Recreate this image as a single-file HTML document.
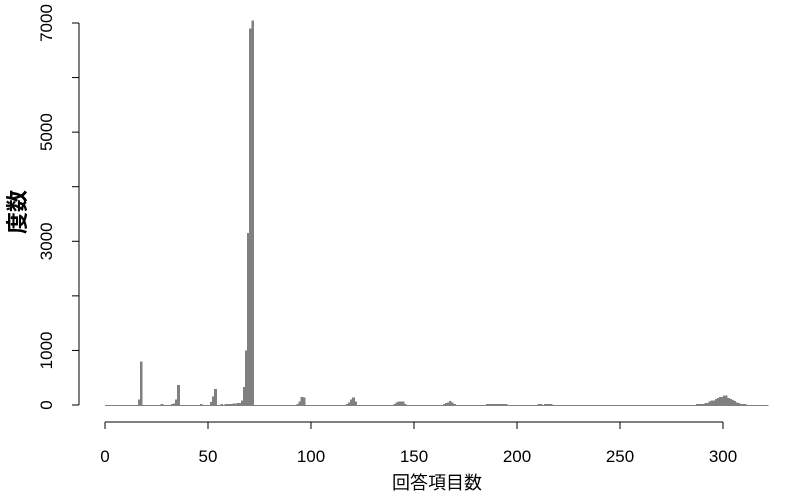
<!DOCTYPE html>
<html><head><meta charset="utf-8"><style>
body{margin:0;background:#fff;}
svg{display:block;font-family:"Liberation Sans","Noto Sans CJK JP",sans-serif;}
</style></head><body>
<svg id="chart" width="800" height="500">
<g id="bars" shape-rendering="crispEdges"></g>
<g id="xaxis"></g>
<g id="yaxis"></g>
<text x="437" y="489" font-size="18" text-anchor="middle">回答項目数</text>
<text transform="translate(25,212) rotate(-90)" font-size="22" font-weight="bold" text-anchor="middle">度数</text>
</svg>
<script>
const bins=[16,17,27,32,33,34,35,46,51,52,53,56,58,59,60,61,62,63,64,65,66,67,68,69,70,71,
93,94,95,96,117,118,119,120,121,140,141,142,143,144,145,164,165,166,167,168,169,
185,186,187,188,189,190,191,192,193,194,210,211,213,214,215,216,
287,288,289,290,291,292,293,294,295,296,297,298,299,300,301,302,303,304,305,306,307,308,309,310];
const counts=[100,800,20,20,30,100,370,20,55,160,290,20,20,20,20,20,30,30,40,40,80,330,1000,3150,6900,7050,
20,60,150,140,20,50,100,140,60,20,50,60,60,60,20,20,40,50,70,50,20,
20,20,20,20,20,20,20,20,20,20,20,20,20,20,20,20,
20,20,20,20,40,40,60,80,80,110,130,150,150,170,170,130,110,90,70,50,40,20,20,20];
const xTicks=[0,50,100,150,200,250,300];
const yTicks=[0,1000,2000,3000,4000,5000,6000,7000];
const yLabels=["0","1000","","3000","","5000","","7000"];
const NS="http://www.w3.org/2000/svg";
const X=v=>105+v*(618/300);
const Y=v=>405-v*(382/7000);
function mk(tag,a,parent){const e=document.createElementNS(NS,tag);for(const k in a)e.setAttribute(k,a[k]);parent.appendChild(e);return e;}
const gb=document.getElementById('bars');
const base=mk('line',{x1:X(0),x2:X(322),y1:405.5,y2:405.5,stroke:'#808080','stroke-width':1},gb);


bins.forEach((b,i)=>{
  const r=mk('rect',{x:X(b),y:Y(counts[i]),width:X(b+1)-X(b)+0.6,height:405-Y(counts[i])+1,fill:'#808080'},gb);
  
  
});
const gx=document.getElementById('xaxis');
mk('line',{x1:X(0),x2:X(300),y1:422,y2:422,stroke:'#000'},gx);
xTicks.forEach(t=>{
  mk('line',{x1:X(t),x2:X(t),y1:422,y2:429,stroke:'#000'},gx);
  const tx=mk('text',{x:X(t),y:462,'font-size':17,'text-anchor':'middle'},gx);
  tx.textContent=t;
  
  
});
const gy=document.getElementById('yaxis');
mk('line',{x1:79,x2:79,y1:Y(0),y2:Y(7000),stroke:'#000'},gy);
yTicks.forEach((t,i)=>{
  mk('line',{x1:72,x2:79,y1:Y(t),y2:Y(t),stroke:'#000'},gy);
  if(yLabels[i]){
    const tx=mk('text',{transform:`translate(52,${Y(t)}) rotate(-90)`,'font-size':17,'text-anchor':'middle'},gy);
    tx.textContent=yLabels[i];
    
    
  }
});
</script>
</body></html>
